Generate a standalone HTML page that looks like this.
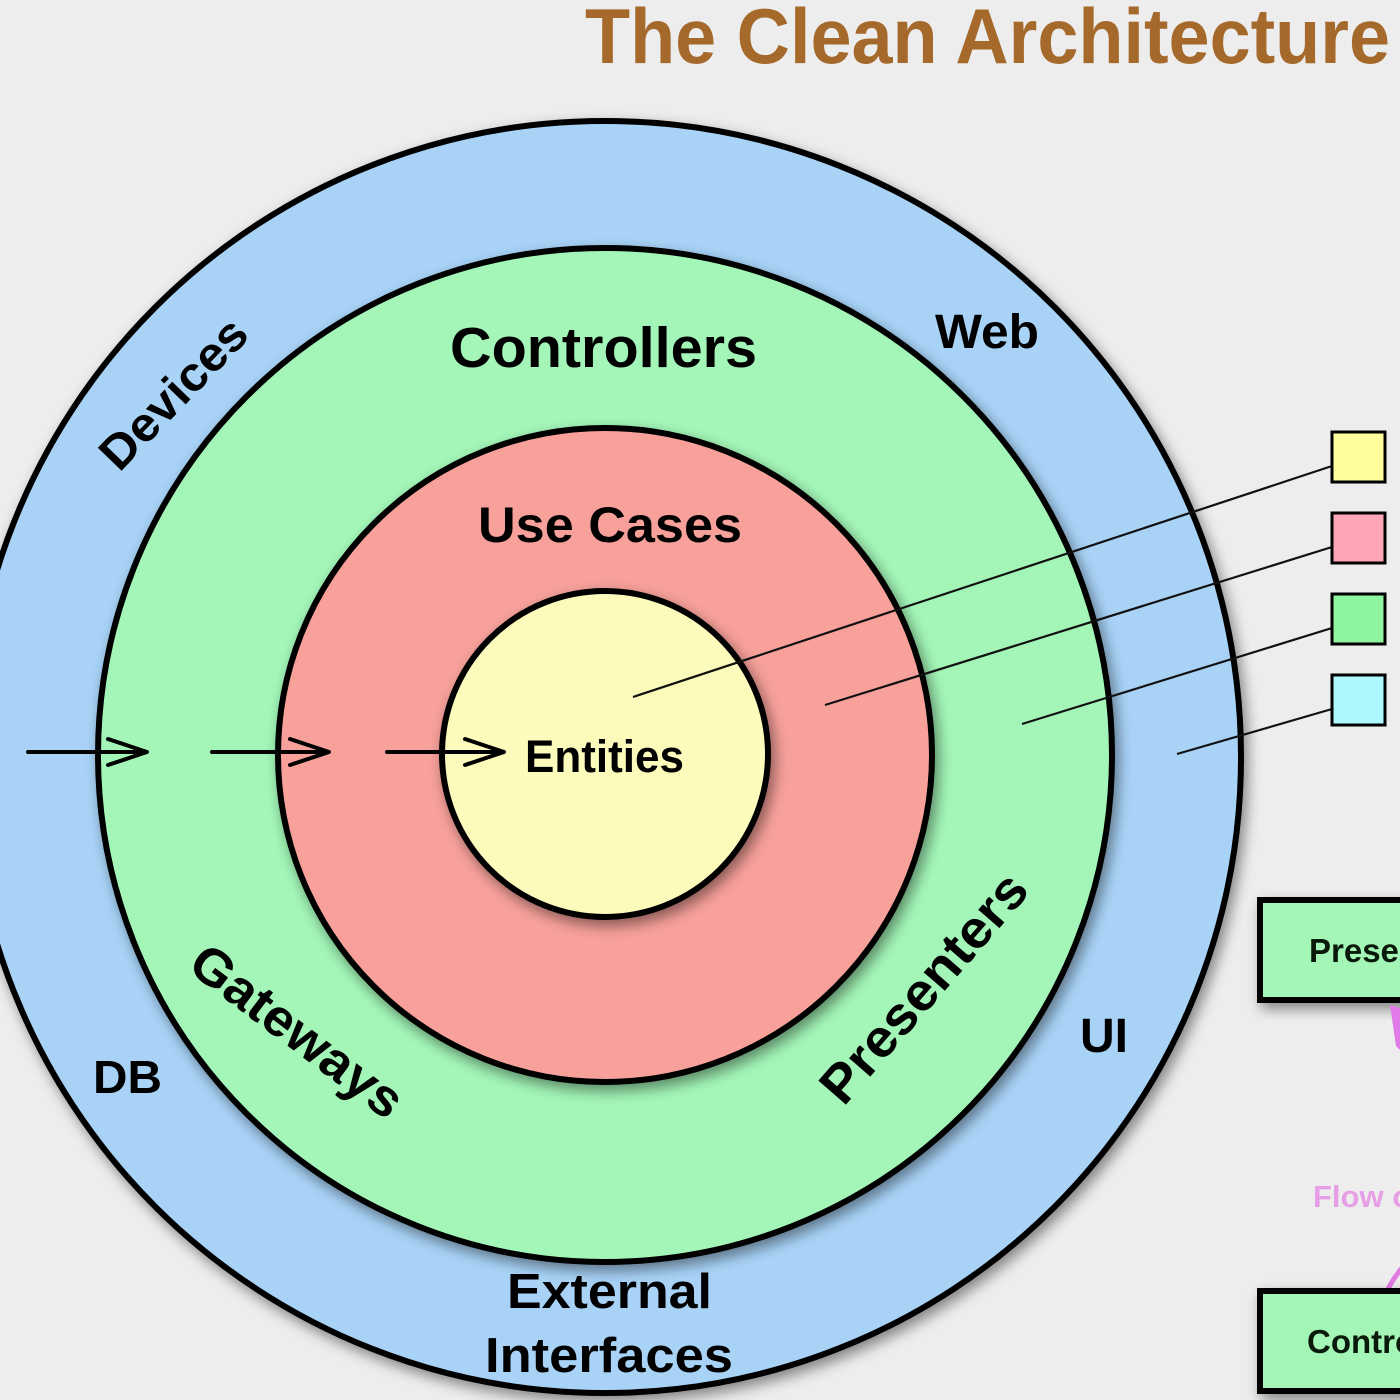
<!DOCTYPE html>
<html>
<head>
<meta charset="utf-8">
<style>
  html,body{margin:0;padding:0;background:#ededed;overflow:hidden;}
  svg{display:block;}
  text{font-family:"Liberation Sans",Arial,sans-serif;font-weight:bold;}
</style>
</head>
<body>
<svg width="1400" height="1400" viewBox="0 0 1400 1400" xmlns="http://www.w3.org/2000/svg">
  <defs>
    <filter id="sh" x="-20%" y="-20%" width="140%" height="140%">
      <feGaussianBlur in="SourceAlpha" stdDeviation="7"/>
      <feOffset dx="4" dy="6" result="b"/>
      <feComponentTransfer><feFuncA type="linear" slope="0.45"/></feComponentTransfer>
      <feMerge><feMergeNode/><feMergeNode in="SourceGraphic"/></feMerge>
    </filter>
  </defs>
  <rect width="1400" height="1400" fill="#ededed"/>

  <!-- Title -->
  <text x="585" y="63" font-size="78" fill="#a5692b" textLength="805" lengthAdjust="spacingAndGlyphs">The Clean Architecture</text>

  <!-- Circles -->
  <circle cx="605" cy="757" r="636" fill="#a8d3f7" stroke="#000" stroke-width="6" filter="url(#sh)"/>
  <circle cx="605" cy="755" r="507" fill="#a3f6b8" stroke="#000" stroke-width="6" filter="url(#sh)"/>
  <circle cx="605" cy="755" r="327" fill="#f8a19b" stroke="#000" stroke-width="6" filter="url(#sh)"/>
  <circle cx="605" cy="754" r="163" fill="#fcfbbc" stroke="#000" stroke-width="6" filter="url(#sh)"/>

  <!-- Labels -->
  <text x="450" y="367" font-size="57" fill="#000" textLength="307" lengthAdjust="spacingAndGlyphs">Controllers</text>
  <text x="935" y="348" font-size="48" fill="#000" textLength="104" lengthAdjust="spacingAndGlyphs">Web</text>
  <text x="478" y="542" font-size="50" fill="#000" textLength="264" lengthAdjust="spacingAndGlyphs">Use Cases</text>
  <text x="525" y="772" font-size="45" fill="#000" textLength="159" lengthAdjust="spacingAndGlyphs">Entities</text>
  <text x="1080" y="1052" font-size="48" fill="#000" textLength="48" lengthAdjust="spacingAndGlyphs">UI</text>
  <text x="93" y="1093" font-size="46" fill="#000" textLength="69" lengthAdjust="spacingAndGlyphs">DB</text>
  <text x="507" y="1308" font-size="49" fill="#000" textLength="205" lengthAdjust="spacingAndGlyphs">External</text>
  <text x="485" y="1372" font-size="49" fill="#000" textLength="248" lengthAdjust="spacingAndGlyphs">Interfaces</text>

  <g transform="translate(173,393) rotate(-46)">
    <text x="0" y="17" font-size="48" fill="#000" text-anchor="middle" textLength="190" lengthAdjust="spacingAndGlyphs">Devices</text>
  </g>
  <g transform="translate(298,1030) rotate(37)">
    <text x="0" y="19" font-size="52" fill="#000" text-anchor="middle" textLength="252" lengthAdjust="spacingAndGlyphs">Gateways</text>
  </g>
  <g transform="translate(923,987) rotate(-49)">
    <text x="0" y="19" font-size="53" fill="#000" text-anchor="middle" textLength="286" lengthAdjust="spacingAndGlyphs">Presenters</text>
  </g>

  <!-- Arrows -->
  <g stroke="#000" stroke-width="4" fill="none" stroke-linecap="round" stroke-linejoin="round">
    <line x1="28" y1="752" x2="145" y2="752"/>
    <polyline points="108,739 147,752 108,765"/>
    <line x1="212" y1="752" x2="327" y2="752"/>
    <polyline points="290,739 329,752 290,765"/>
    <line x1="387" y1="752" x2="502" y2="752"/>
    <polyline points="465,739 504,752 465,765"/>
  </g>

  <!-- Legend lines -->
  <g stroke="#111" stroke-width="2.2">
    <line x1="633" y1="697" x2="1332" y2="466"/>
    <line x1="825" y1="705" x2="1332" y2="547"/>
    <line x1="1022" y1="724" x2="1332" y2="628"/>
    <line x1="1177" y1="754" x2="1332" y2="709"/>
  </g>
  <!-- Legend boxes -->
  <g stroke="#000" stroke-width="3">
    <rect x="1332" y="432" width="53" height="50" fill="#ffff9e"/>
    <rect x="1332" y="513" width="53" height="50" fill="#ffa6b6"/>
    <rect x="1332" y="594" width="53" height="50" fill="#8ef49d"/>
    <rect x="1332" y="675" width="53" height="50" fill="#acf8fc"/>
  </g>

  <!-- Right side flow boxes -->
  <rect x="1260" y="900" width="220" height="100" fill="#a3f6b5" stroke="#000" stroke-width="6" filter="url(#sh)"/>
  <text x="1309" y="962" font-size="33" fill="#0a1a0a">Presenters</text>
  <polygon points="1390,1005 1400,1008 1400,1050 1396,1046" fill="#e07ae8"/>
  <text x="1313" y="1207" font-size="31" fill="#e89ee6">Flow of control</text>
  <path d="M1386,1293 Q1392,1280 1402,1268" stroke="#e07ae0" stroke-width="5" fill="none"/>
  <rect x="1260" y="1291" width="220" height="100" fill="#a3f6b5" stroke="#000" stroke-width="6" filter="url(#sh)"/>
  <text x="1307" y="1353" font-size="33" fill="#0a1a0a">Controllers</text>
</svg>
</body>
</html>
